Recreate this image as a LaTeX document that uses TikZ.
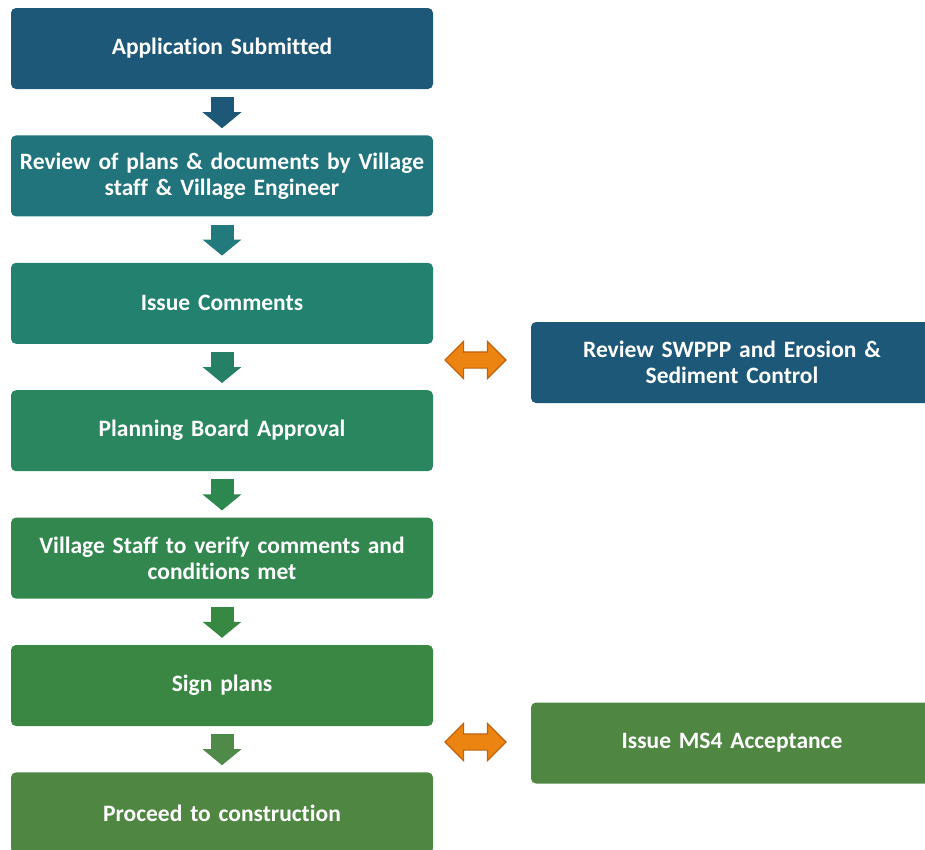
\documentclass[tikz,border=0pt]{standalone}
\usepackage{fontspec}
\setmainfont{Carlito}[Ligatures=NoCommon]
\usetikzlibrary{arrows.meta,shapes.arrows,positioning}

% fills, blue at the top running down to green
\definecolor{tone1}{HTML}{1E5878}
\definecolor{tone2}{HTML}{21737C}
\definecolor{tone3}{HTML}{238170}
\definecolor{tone4}{HTML}{2A865E}
\definecolor{tone5}{HTML}{32874F}
\definecolor{tone6}{HTML}{3A8643}
\definecolor{tone7}{HTML}{4E8642}
% the block arrows between the steps
\definecolor{flow1}{HTML}{1E5878}
\definecolor{flow2}{HTML}{227A7D}
\definecolor{flow3}{HTML}{268066}
\definecolor{flow4}{HTML}{2D8850}
\definecolor{flow5}{HTML}{378840}
\definecolor{flow6}{HTML}{4F8A48}
\definecolor{linkfill}{HTML}{EC8412}
\definecolor{linkedge}{HTML}{C2620C}

\tikzset{
  stepbox/.style={rectangle, rounded corners=5pt, minimum width=422pt, minimum height=81pt,
    text width=410pt, align=center, inner sep=0pt, text=white,
    font=\fontsize{23.5}{26}\selectfont\bfseries},
  sidebox/.style={stepbox, minimum width=402pt, text width=390pt},
  down/.style={line width=23pt, -{Triangle[width=38pt,length=16pt]}, shorten <=8pt, shorten >=7pt},
  link/.style={double arrow, double arrow head extend=10.5pt, double arrow tip angle=90,
    minimum height=61pt, minimum width=36pt, inner xsep=0pt, inner ysep=7.5pt,
    fill=linkfill, draw=linkedge, line width=1.2pt}
}

\begin{document}
\begin{tikzpicture}[x=1pt,y=-1pt,node distance=46pt]
    \useasboundingbox (0,0) rectangle (925,849);
    \clip (0,0) rectangle (925,849);

    % main column
    \node[stepbox, fill=tone1] (submit) at (222,48.5) {Application Submitted};
    \node[stepbox, fill=tone2, below=of submit] (review) {Review of plans \& documents by Village\\ staff \& Village Engineer};
    \node[stepbox, fill=tone3, below=of review] (comments) {Issue Comments};
    \node[stepbox, fill=tone4, below=of comments] (board) {Planning Board Approval};
    \node[stepbox, fill=tone5, below=of board] (verify) {Village Staff to verify comments and\\ conditions met};
    \node[stepbox, fill=tone6, below=of verify] (sign) {Sign plans};
    \node[stepbox, fill=tone7, below=of sign] (build) {Proceed to construction};

    % side steps
    \node[sidebox, fill=tone1] (swppp) at (732,362.5) {Review SWPPP and Erosion \&\\ Sediment Control};
    \node[sidebox, fill=tone7] (ms4) at (732,743) {Issue MS4 Acceptance};

    \node[link] (linkA) at (475.5,360) {};
    \node[link] (linkB) at (475.5,742) {};

    \draw [down, flow1] (submit) -- (review);
    \draw [down, flow2] (review) -- (comments);
    \draw [down, flow3] (comments) -- (board);
    \draw [down, flow4] (board) -- (verify);
    \draw [down, flow5] (verify) -- (sign);
    \draw [down, flow6] (sign) -- (build);
\end{tikzpicture}
\end{document}
